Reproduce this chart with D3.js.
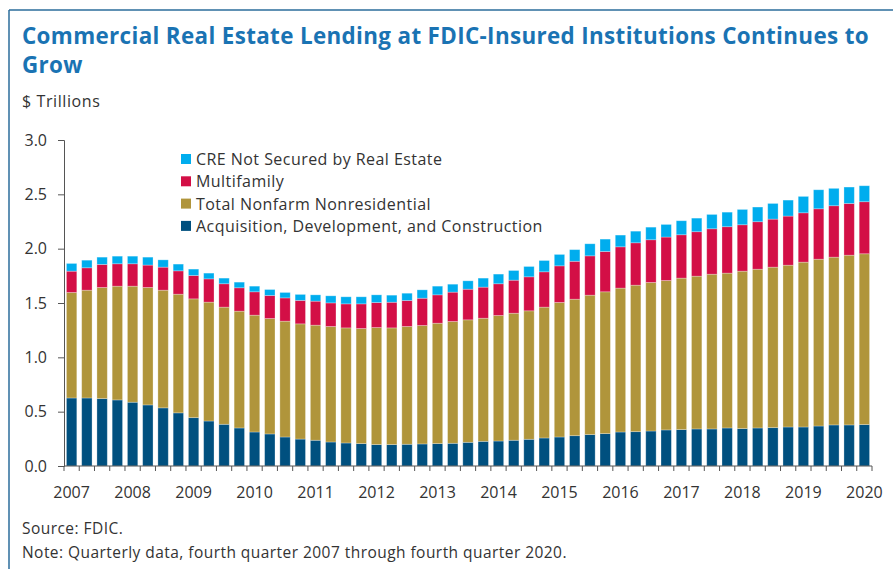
<!DOCTYPE html>
<html>
<head>
<meta charset="utf-8">
<script src="https://cdn.jsdelivr.net/npm/d3@7"></script>
<style>
  body { margin: 0; background: #fff; }
  svg { display: block; font-family: "Open Sans", sans-serif; }
  .title { fill: #1a73b3; font-weight: 700; font-size: 22.4px; letter-spacing: 0.35px; }
  .sub { fill: #333; font-size: 16px; letter-spacing: 0.6px; }
  .axis text { fill: #333; font-size: 16px; font-family: "Open Sans", sans-serif; }
  .axis path, .axis line { stroke: #555; }
  .legend text { fill: #333; font-size: 16px; letter-spacing: 0.45px; }
  .foot { fill: #333; font-size: 15.5px; letter-spacing: 0.45px; }
</style>
</head>
<body>
<div id="chart"></div>
<script>
// quarterly, Q4 2007 .. Q4 2020 ($ trillions)
const quarters = d3.range(53).map(i => {
    const y = 2007 + Math.floor((i + 3) / 4);
    const q = ((i + 3) % 4) + 1;
    return `${y}Q${q}`;
});
const yearLabels = ["2007", "2008", "2009", "2010", "2011", "2012", "2013", "2014", "2015", "2016", "2017", "2018", "2019", "2020"];

const adc = [0.626, 0.626, 0.620, 0.608, 0.587, 0.562, 0.535, 0.489, 0.445, 0.414, 0.384, 0.350, 0.313, 0.295, 0.267, 0.248,
    0.237, 0.221, 0.212, 0.206, 0.197, 0.197, 0.200, 0.203, 0.206, 0.209, 0.218, 0.227, 0.230, 0.237, 0.246, 0.258,
    0.267, 0.279, 0.289, 0.298, 0.313, 0.316, 0.322, 0.332, 0.335, 0.341, 0.341, 0.350, 0.344, 0.350, 0.353, 0.359,
    0.359, 0.368, 0.378, 0.378, 0.381];
const nonfarm = [0.971, 0.992, 1.023, 1.047, 1.068, 1.081, 1.083, 1.092, 1.093, 1.094, 1.078, 1.075, 1.075, 1.062, 1.066, 1.060,
    1.059, 1.063, 1.059, 1.059, 1.077, 1.074, 1.084, 1.090, 1.108, 1.121, 1.127, 1.133, 1.155, 1.169, 1.182, 1.204,
    1.238, 1.256, 1.283, 1.305, 1.324, 1.348, 1.367, 1.375, 1.394, 1.406, 1.424, 1.425, 1.449, 1.461, 1.477, 1.489,
    1.517, 1.535, 1.544, 1.562, 1.572];
const multifamily = [0.196, 0.206, 0.212, 0.206, 0.206, 0.206, 0.212, 0.215, 0.215, 0.214, 0.215, 0.215, 0.215, 0.212, 0.214, 0.216,
    0.221, 0.217, 0.221, 0.227, 0.230, 0.236, 0.239, 0.251, 0.261, 0.270, 0.282, 0.286, 0.292, 0.304, 0.313, 0.325,
    0.337, 0.349, 0.362, 0.371, 0.380, 0.390, 0.393, 0.400, 0.399, 0.409, 0.418, 0.427, 0.427, 0.437, 0.442, 0.452,
    0.454, 0.464, 0.473, 0.476, 0.479];
const notSecured = [0.071, 0.070, 0.067, 0.070, 0.070, 0.073, 0.067, 0.062, 0.059, 0.053, 0.052, 0.052, 0.052, 0.055, 0.050, 0.055,
    0.058, 0.065, 0.065, 0.065, 0.071, 0.065, 0.067, 0.077, 0.080, 0.073, 0.077, 0.083, 0.089, 0.089, 0.095, 0.104,
    0.105, 0.107, 0.111, 0.114, 0.108, 0.107, 0.116, 0.116, 0.129, 0.125, 0.132, 0.134, 0.141, 0.135, 0.144, 0.147,
    0.151, 0.175, 0.160, 0.151, 0.147];

const seriesKeys = ["adc", "nonfarm", "multifamily", "notSecured"];
const seriesNames = {
    adc: "Acquisition, Development, and Construction",
    nonfarm: "Total Nonfarm Nonresidential",
    multifamily: "Multifamily",
    notSecured: "CRE Not Secured by Real Estate"
};
const colors = { adc: "#00507f", nonfarm: "#b0953b", multifamily: "#d30f46", notSecured: "#00adee" };

const width = 893, height = 569;
const margin = { top: 140, right: 21, bottom: 103, left: 64 };

const svg = d3.select("#chart").append("svg")
    .attr("width", width)
    .attr("height", height);

// frame lines (top + left)
svg.append("line").attr("x1", 9).attr("x2", width).attr("y1", 10).attr("y2", 10)
    .attr("stroke", "#2b6c9b").attr("stroke-width", 1.5);
svg.append("line").attr("x1", 9).attr("x2", 9).attr("y1", 10).attr("y2", height)
    .attr("stroke", "#2b6c9b").attr("stroke-width", 1.5);

// title
svg.append("text").attr("class", "title").attr("x", 22).attr("y", 44)
    .text("Commercial Real Estate Lending at FDIC-Insured Institutions Continues to");
svg.append("text").attr("class", "title").attr("x", 22).attr("y", 73).text("Grow");
svg.append("text").attr("class", "sub").attr("x", 22).attr("y", 107).text("$ Trillions");

const data = quarters.map((q, i) => ({
    q, adc: adc[i], nonfarm: nonfarm[i], multifamily: multifamily[i], notSecured: notSecured[i]
}));
const stacked = d3.stack().keys(seriesKeys)(data);

const x = d3.scaleBand()
    .domain(quarters)
    .range([margin.left, width - margin.right])
    .paddingInner(0.32)
    .paddingOuter(0.16);

const y = d3.scaleLinear()
    .domain([0, 3])
    .range([height - margin.bottom, margin.top]);

const g = svg.append("g");

g.selectAll("g.layer")
    .data(stacked)
    .join("g")
    .attr("class", "layer")
    .attr("fill", d => colors[d.key])
    .selectAll("rect")
    .data(d => d)
    .join("rect")
    .attr("x", d => x(d.data.q))
    .attr("y", d => y(d[1]))
    .attr("width", x.bandwidth())
    .attr("height", d => y(d[0]) - y(d[1]))
    .attr("stroke", "#fff")
    .attr("stroke-opacity", 0.35)
    .attr("stroke-width", 0.8);

// y axis
svg.append("g")
    .attr("class", "axis")
    .attr("transform", `translate(${margin.left},0)`)
    .call(d3.axisLeft(y).tickValues(d3.range(0, 3.01, 0.5)).tickFormat(d3.format(".1f")).tickSizeOuter(0).tickSize(6).tickPadding(11));

// x axis: a tick at every band edge, year labels under Q4 bars
const edges = d3.range(quarters.length + 1).map(i => margin.left + i * (width - margin.right - margin.left) / quarters.length);
const xAxis = svg.append("g").attr("class", "axis");
xAxis.append("line")
    .attr("x1", margin.left).attr("x2", width - margin.right)
    .attr("y1", y(0)).attr("y2", y(0))
    .attr("stroke", "#555");
xAxis.selectAll("line.tick")
    .data(edges)
    .join("line")
    .attr("class", "tick")
    .attr("x1", d => d).attr("x2", d => d)
    .attr("y1", y(0)).attr("y2", y(0) + 5)
    .attr("stroke", "#555");
xAxis.selectAll("text.year")
    .data(yearLabels)
    .join("text")
    .attr("class", "year")
    .attr("x", (d, i) => x(quarters[i * 4]) + x.bandwidth() / 2)
    .attr("y", y(0) + 32)
    .attr("text-anchor", "middle")
    .text(d => d);

// legend
const legendOrder = ["notSecured", "multifamily", "nonfarm", "adc"];
const legend = svg.append("g").attr("class", "legend")
    .attr("transform", "translate(181,154)");
const items = legend.selectAll("g")
    .data(legendOrder)
    .join("g")
    .attr("transform", (d, i) => `translate(0,${i * 22.3})`);
items.append("rect").attr("width", 10).attr("height", 10).attr("fill", d => colors[d]);
items.append("text").attr("x", 15).attr("y", 11).text(d => seriesNames[d]);

// footnotes
svg.append("text").attr("class", "foot").attr("x", 22).attr("y", 534).text("Source: FDIC.");
svg.append("text").attr("class", "foot").attr("x", 22).attr("y", 558)
    .text("Note: Quarterly data, fourth quarter 2007 through fourth quarter 2020.");
</script>
</body>
</html>
